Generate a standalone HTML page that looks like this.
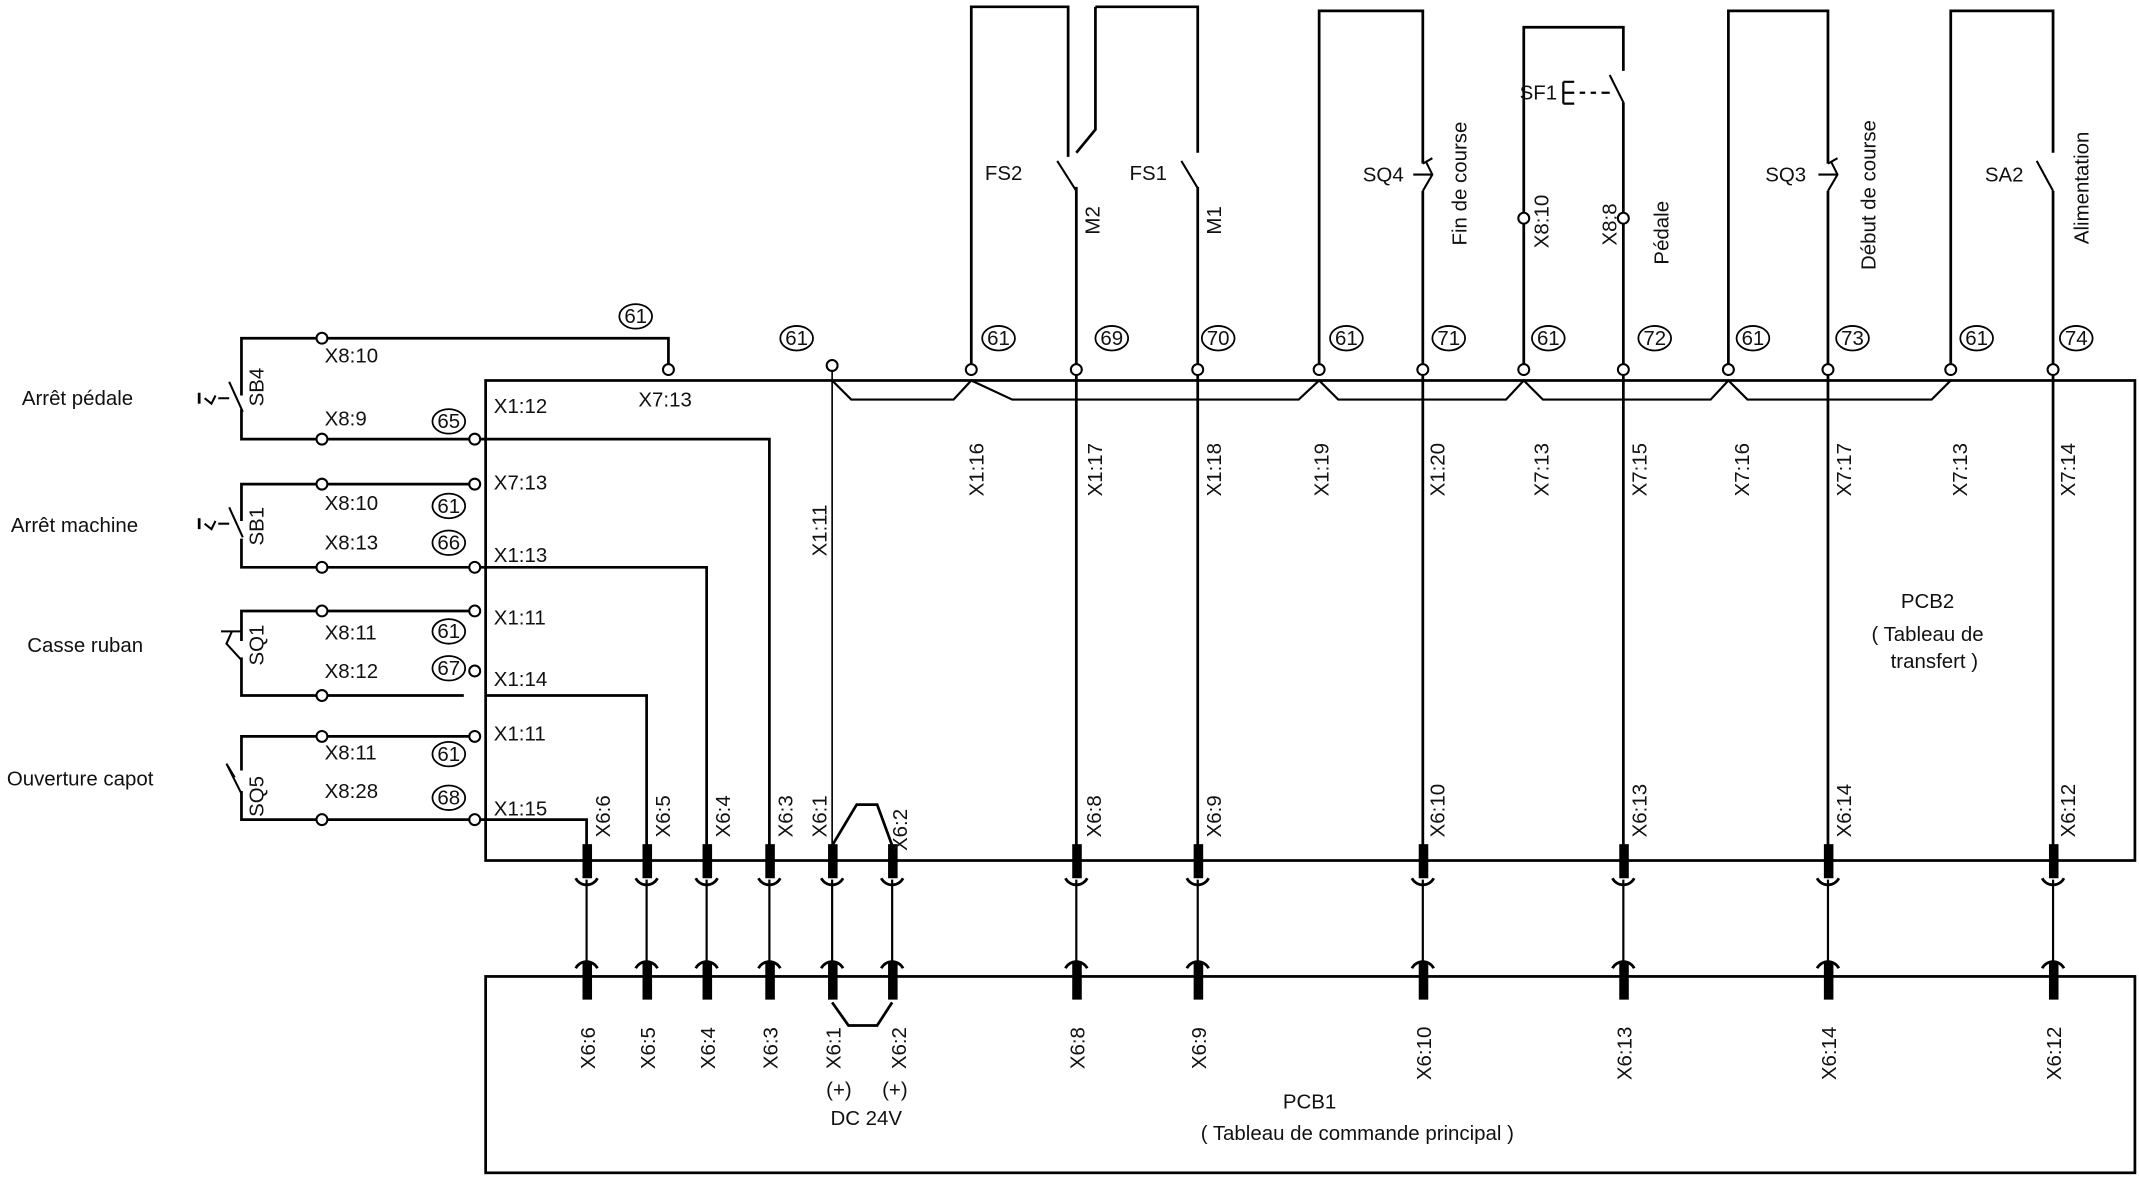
<!DOCTYPE html>
<html><head><meta charset="utf-8"><style>
html,body{margin:0;padding:0;background:#fff;}
svg{display:block;}
text{font-family:"Liberation Sans",sans-serif;font-size:15px;fill:#111;}
</style></head><body>
<svg width="2139" height="1181" viewBox="0 0 1568 866" preserveAspectRatio="none" xmlns="http://www.w3.org/2000/svg">
<g fill="none" stroke="#000" stroke-width="2">
<rect x="356" y="279" width="1209" height="352"/>
<rect x="356" y="716" width="1209" height="144"/>
<polyline stroke-width="1.6" points="610,279 624,293 699,293 712,279 742,293 952,293 967,279 981,293 1104,293 1117,279 1131,293 1254,293 1267,279 1281,293 1416,293 1430,279"/>
<line x1="610" y1="271" x2="610" y2="620" stroke-width="1.2"/>
<line x1="789" y1="137" x2="789" y2="620"/>
<line x1="878" y1="137" x2="878" y2="620"/>
<line x1="1043" y1="140" x2="1043" y2="620"/>
<line x1="1190" y1="75" x2="1190" y2="620"/>
<line x1="1340" y1="140" x2="1340" y2="620"/>
<line x1="1505" y1="140" x2="1505" y2="620"/>
<polyline points="712,271 712,5 783,5 783,115"/>
<polyline points="803,5 803,95 789,112"/>
<polyline points="803,5 878,5 878,112"/>
<line x1="775" y1="118" x2="789" y2="140" stroke-width="1.5"/>
<line x1="866" y1="118" x2="878" y2="138" stroke-width="1.5"/>
<polyline points="967,271 967,8 1043,8 1043,120"/>
<polyline points="1117,271 1117,20 1190,20 1190,52"/>
<line x1="1180" y1="55" x2="1190" y2="75" stroke-width="1.5"/>
<polyline points="1267,271 1267,8 1340,8 1340,120"/>
<polyline points="1430,271 1430,8 1505,8 1505,112"/>
<line x1="1493" y1="118" x2="1505" y2="140" stroke-width="1.5"/>
<path d="M1043,120 L1050,116 M1036,128 L1050,128 M1043,140 L1050,128 L1045,118" stroke-width="1.5"/>
<path d="M1340,120 L1347,116 M1333,128 L1347,128 M1340,140 L1347,128 L1342,118" stroke-width="1.5"/>
<path d="M1146,60 L1146,76 M1146,60 L1154,60 M1146,68 L1154,68 M1146,76 L1154,76 M1158,68 L1162,68 M1166,68 L1170,68 M1174,68 L1180,68" stroke-width="1.6"/>
<polyline points="177,290 177,248 490,248 490,267"/>
<polyline points="177,300 177,322 344,322"/>
<polyline points="352,322 564,322 564,620"/>
<polyline points="177,382 177,355 344,355"/>
<polyline points="177,395 177,416 344,416"/>
<polyline points="352,416 518,416 518,620"/>
<polyline points="177,470 177,448 344,448"/>
<polyline points="177,482 177,510 340,510"/>
<polyline points="356,510 474,510 474,620"/>
<polyline points="177,565 177,540 344,540"/>
<polyline points="177,580 177,601 344,601"/>
<polyline points="352,601 430,601 430,620"/>
<path d="M168,280 L178,302 M160,292 L168,292 M150,292 L155,296 L158,290" stroke-width="1.5"/>
<path d="M146,288 L146,296" stroke-width="2"/>
<path d="M168,372 L178,394 M160,384 L168,384 M150,384 L155,388 L158,382" stroke-width="1.5"/>
<path d="M146,380 L146,388" stroke-width="2"/>
<path d="M162,463 L177,463 M170,463 L166,472 L177,484" stroke-width="1.5"/>
<path d="M166,560 L177,582 M166,560 L172,570" stroke-width="1.5"/>
<polyline points="610,620 628,590 643,590 654,620"/>
<polyline points="610,735 622,752 643,752 654,735"/>
</g>
<g fill="#fff" stroke="#000" stroke-width="1.5">
<circle cx="490" cy="271" r="4"/><circle cx="610" cy="268" r="4"/>
<circle cx="712" cy="271" r="4"/><circle cx="789" cy="271" r="4"/><circle cx="878" cy="271" r="4"/>
<circle cx="967" cy="271" r="4"/><circle cx="1043" cy="271" r="4"/><circle cx="1117" cy="271" r="4"/>
<circle cx="1190" cy="271" r="4"/><circle cx="1267" cy="271" r="4"/><circle cx="1340" cy="271" r="4"/>
<circle cx="1430" cy="271" r="4"/><circle cx="1505" cy="271" r="4"/>
<circle cx="1117" cy="160" r="4"/><circle cx="1190" cy="160" r="4"/>
<circle cx="236" cy="248" r="4"/><circle cx="236" cy="322" r="4"/><circle cx="348" cy="322" r="4"/>
<circle cx="236" cy="355" r="4"/><circle cx="348" cy="355" r="4"/><circle cx="236" cy="416" r="4"/><circle cx="348" cy="416" r="4"/>
<circle cx="236" cy="448" r="4"/><circle cx="348" cy="448" r="4"/><circle cx="236" cy="510" r="4"/><circle cx="348" cy="492" r="4"/>
<circle cx="236" cy="540" r="4"/><circle cx="348" cy="540" r="4"/><circle cx="236" cy="601" r="4"/><circle cx="348" cy="601" r="4"/>
</g>
<g stroke="#000" fill="none" stroke-width="2">
<path d="M430,645 V708 M474,645 V708 M518,645 V708 M564,645 V708 M610,645 V708 M654,645 V708 M789,645 V708 M878,645 V708 M1043,645 V708 M1190,645 V708 M1340,645 V708 M1505,645 V708" stroke-width="1.6"/>
<path d="M422,644 A9,9 0 0 0 438,644 M466,644 A9,9 0 0 0 482,644 M510,644 A9,9 0 0 0 526,644 M556,644 A9,9 0 0 0 572,644 M602,644 A9,9 0 0 0 618,644 M646,644 A9,9 0 0 0 662,644 M781,644 A9,9 0 0 0 797,644 M870,644 A9,9 0 0 0 886,644 M1035,644 A9,9 0 0 0 1051,644 M1182,644 A9,9 0 0 0 1198,644 M1332,644 A9,9 0 0 0 1348,644 M1497,644 A9,9 0 0 0 1513,644"/>
<path d="M422,710 A9,9 0 0 1 438,710 M466,710 A9,9 0 0 1 482,710 M510,710 A9,9 0 0 1 526,710 M556,710 A9,9 0 0 1 572,710 M602,710 A9,9 0 0 1 618,710 M646,710 A9,9 0 0 1 662,710 M781,710 A9,9 0 0 1 797,710 M870,710 A9,9 0 0 1 886,710 M1035,710 A9,9 0 0 1 1051,710 M1182,710 A9,9 0 0 1 1198,710 M1332,710 A9,9 0 0 1 1348,710 M1497,710 A9,9 0 0 1 1513,710"/>
</g>
<g fill="#000">
<rect x="427" y="619" width="7" height="25"/><rect x="471" y="619" width="7" height="25"/><rect x="515" y="619" width="7" height="25"/><rect x="561" y="619" width="7" height="25"/><rect x="607" y="619" width="7" height="25"/><rect x="651" y="619" width="7" height="25"/><rect x="786" y="619" width="7" height="25"/><rect x="875" y="619" width="7" height="25"/><rect x="1040" y="619" width="7" height="25"/><rect x="1187" y="619" width="7" height="25"/><rect x="1337" y="619" width="7" height="25"/><rect x="1502" y="619" width="7" height="25"/>
<rect x="427" y="706" width="7" height="27"/><rect x="471" y="706" width="7" height="27"/><rect x="515" y="706" width="7" height="27"/><rect x="561" y="706" width="7" height="27"/><rect x="607" y="706" width="7" height="27"/><rect x="651" y="706" width="7" height="27"/><rect x="786" y="706" width="7" height="27"/><rect x="875" y="706" width="7" height="27"/><rect x="1040" y="706" width="7" height="27"/><rect x="1187" y="706" width="7" height="27"/><rect x="1337" y="706" width="7" height="27"/><rect x="1502" y="706" width="7" height="27"/>
</g>
<g fill="none" stroke="#000" stroke-width="1.3">
<ellipse cx="466" cy="232" rx="12" ry="9"/><ellipse cx="584" cy="248" rx="12" ry="9"/><ellipse cx="732" cy="248" rx="12" ry="9"/><ellipse cx="815" cy="248" rx="12" ry="9"/><ellipse cx="893" cy="248" rx="12" ry="9"/><ellipse cx="987" cy="248" rx="12" ry="9"/><ellipse cx="1062" cy="248" rx="12" ry="9"/><ellipse cx="1135" cy="248" rx="12" ry="9"/><ellipse cx="1213" cy="248" rx="12" ry="9"/><ellipse cx="1285" cy="248" rx="12" ry="9"/><ellipse cx="1358" cy="248" rx="12" ry="9"/><ellipse cx="1449" cy="248" rx="12" ry="9"/><ellipse cx="1522" cy="248" rx="12" ry="9"/>
<ellipse cx="329" cy="309" rx="12" ry="9"/><ellipse cx="329" cy="371" rx="12" ry="9"/><ellipse cx="329" cy="398" rx="12" ry="9"/><ellipse cx="329" cy="463" rx="12" ry="9"/><ellipse cx="329" cy="490" rx="12" ry="9"/><ellipse cx="329" cy="553" rx="12" ry="9"/><ellipse cx="329" cy="585" rx="12" ry="9"/>
</g>
<g text-anchor="middle" font-size="14">
<text x="466" y="237">61</text><text x="584" y="253">61</text><text x="732" y="253">61</text><text x="815" y="253">69</text><text x="893" y="253">70</text><text x="987" y="253">61</text><text x="1062" y="253">71</text><text x="1135" y="253">61</text><text x="1213" y="253">72</text><text x="1285" y="253">61</text><text x="1358" y="253">73</text><text x="1449" y="253">61</text><text x="1522" y="253">74</text>
<text x="329" y="314">65</text><text x="329" y="376">61</text><text x="329" y="403">66</text><text x="329" y="468">61</text><text x="329" y="495">67</text><text x="329" y="558">61</text><text x="329" y="590">68</text>
</g>
<text x="16" y="297">Arrêt pédale</text>
<text x="8" y="390">Arrêt machine</text>
<text x="20" y="478">Casse ruban</text>
<text x="5" y="576">Ouverture capot</text>
<text x="238" y="266">X8:10</text><text x="238" y="312">X8:9</text>
<text x="238" y="374">X8:10</text><text x="238" y="403">X8:13</text>
<text x="238" y="469">X8:11</text><text x="238" y="497">X8:12</text>
<text x="238" y="557">X8:11</text><text x="238" y="585">X8:28</text>
<text x="362" y="303">X1:12</text><text x="362" y="359">X7:13</text><text x="362" y="412">X1:13</text>
<text x="362" y="458">X1:11</text><text x="362" y="503">X1:14</text><text x="362" y="543">X1:11</text><text x="362" y="598">X1:15</text>
<text x="468" y="298">X7:13</text>
<text x="722" y="132">FS2</text><text x="828" y="132">FS1</text><text x="999" y="133">SQ4</text>
<text x="1114" y="73">SF1</text><text x="1294" y="133">SQ3</text><text x="1455" y="133">SA2</text>
<text x="1413" y="446" text-anchor="middle" font-size="18">PCB2</text>
<text x="1413" y="470" text-anchor="middle">( Tableau de</text>
<text x="1418" y="490" text-anchor="middle">transfert )</text>
<text x="960" y="813" text-anchor="middle" font-size="18">PCB1</text>
<text x="995" y="836" text-anchor="middle">( Tableau de commande principal )</text>
<text x="615" y="804" text-anchor="middle">(+)</text><text x="656" y="804" text-anchor="middle">(+)</text>
<text x="635" y="825" text-anchor="middle">DC 24V</text>
<g>
<text transform="translate(193,298) rotate(-90)">SB4</text>
<text transform="translate(193,400) rotate(-90)">SB1</text>
<text transform="translate(193,488) rotate(-90)">SQ1</text>
<text transform="translate(193,599) rotate(-90)">SQ5</text>
<text transform="translate(806,172) rotate(-90)">M2</text>
<text transform="translate(895,172) rotate(-90)">M1</text>
<text transform="translate(1075,180) rotate(-90)">Fin de course</text>
<text transform="translate(1135,182) rotate(-90)">X8:10</text>
<text transform="translate(1185,180) rotate(-90)">X8:8</text>
<text transform="translate(1223,194) rotate(-90)">Pédale</text>
<text transform="translate(1375,198) rotate(-90)">Début de course</text>
<text transform="translate(1531,179) rotate(-90)">Alimentation</text>
<text transform="translate(606,408) rotate(-90)">X1:11</text>
<text transform="translate(721,364) rotate(-90)">X1:16</text>
<text transform="translate(808,364) rotate(-90)">X1:17</text>
<text transform="translate(895,364) rotate(-90)">X1:18</text>
<text transform="translate(974,364) rotate(-90)">X1:19</text>
<text transform="translate(1059,364) rotate(-90)">X1:20</text>
<text transform="translate(1135,364) rotate(-90)">X7:13</text>
<text transform="translate(1207,364) rotate(-90)">X7:15</text>
<text transform="translate(1282,364) rotate(-90)">X7:16</text>
<text transform="translate(1357,364) rotate(-90)">X7:17</text>
<text transform="translate(1442,364) rotate(-90)">X7:13</text>
<text transform="translate(1521,364) rotate(-90)">X7:14</text>
<text transform="translate(447,614) rotate(-90)">X6:6</text>
<text transform="translate(491,614) rotate(-90)">X6:5</text>
<text transform="translate(535,614) rotate(-90)">X6:4</text>
<text transform="translate(581,614) rotate(-90)">X6:3</text>
<text transform="translate(606,614) rotate(-90)">X6:1</text>
<text transform="translate(665,624) rotate(-90)">X6:2</text>
<text transform="translate(807,614) rotate(-90)">X6:8</text>
<text transform="translate(895,614) rotate(-90)">X6:9</text>
<text transform="translate(1059,614) rotate(-90)">X6:10</text>
<text transform="translate(1207,614) rotate(-90)">X6:13</text>
<text transform="translate(1357,614) rotate(-90)">X6:14</text>
<text transform="translate(1521,614) rotate(-90)">X6:12</text>
<text transform="translate(436,784) rotate(-90)">X6:6</text>
<text transform="translate(480,784) rotate(-90)">X6:5</text>
<text transform="translate(524,784) rotate(-90)">X6:4</text>
<text transform="translate(570,784) rotate(-90)">X6:3</text>
<text transform="translate(616,784) rotate(-90)">X6:1</text>
<text transform="translate(664,784) rotate(-90)">X6:2</text>
<text transform="translate(795,784) rotate(-90)">X6:8</text>
<text transform="translate(884,784) rotate(-90)">X6:9</text>
<text transform="translate(1049,792) rotate(-90)">X6:10</text>
<text transform="translate(1196,792) rotate(-90)">X6:13</text>
<text transform="translate(1346,792) rotate(-90)">X6:14</text>
<text transform="translate(1511,792) rotate(-90)">X6:12</text>
</g>
</svg>
</body></html>
